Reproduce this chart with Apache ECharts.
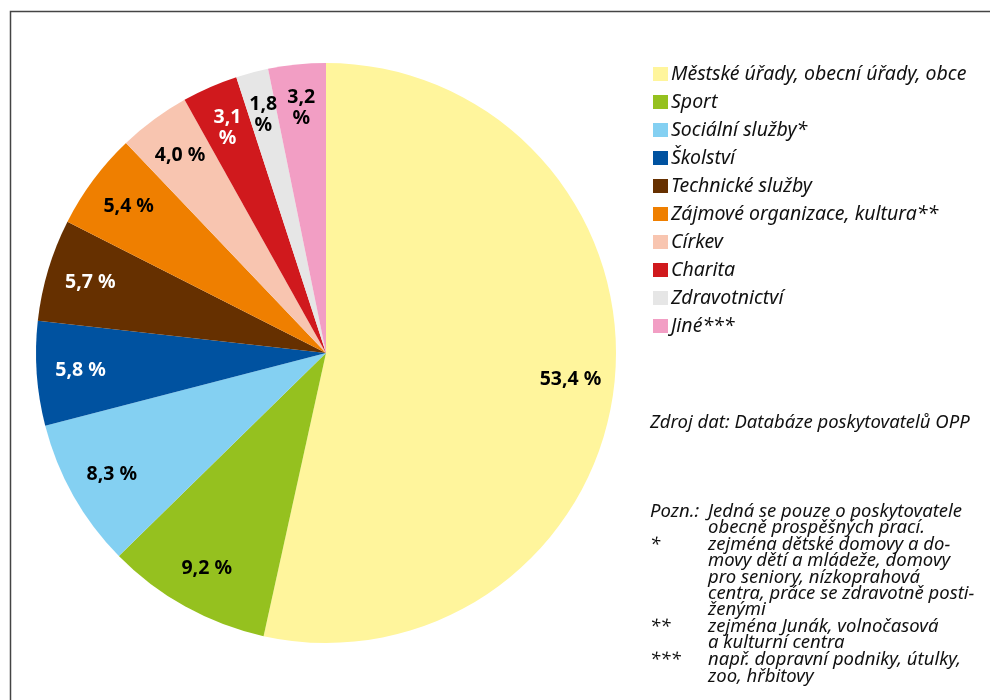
<!DOCTYPE html>
<html lang="cs">
<head>
    <meta charset="UTF-8">
    <script src="https://cdn.jsdelivr.net/npm/echarts@6/dist/echarts.min.js"></script>
    <title>Poskytovatelé OPP</title>
    <style>
        html, body { margin: 0; padding: 0; background: #fff; }
        #chart { width: 990px; height: 700px; }
    </style>
</head>
<body>
<div id="chart"></div>
<script type="text/javascript">
    // data
    var categories = ['Městské úřady, obecní úřady, obce', 'Sport', 'Sociální služby*', 'Školství',
        'Technické služby', 'Zájmové organizace, kultura**', 'Církev', 'Charita', 'Zdravotnictví', 'Jiné***'];
    var shares = [53.4, 9.2, 8.3, 5.8, 5.7, 5.4, 4.0, 3.1, 1.8, 3.2];
    var colors = ['#fff59c', '#95c11f', '#84d0f2', '#0052a0', '#663000', '#ef7f00', '#f8c5b0', '#d0191d', '#e6e6e6', '#f29ec4'];
    var labelColors = ['#000', '#000', '#000', '#fff', '#fff', '#000', '#000', '#fff', '#000', '#000'];
    var twoLine = [false, false, false, false, false, false, false, true, true, true];

    var notes = [
        ['', 'Zdroj dat: Databáze poskytovatelů OPP', 423],
        ['Pozn.:', 'Jedná se pouze o poskytovatele', 512],
        ['', 'obecně prospěšných prací.', 528],
        ['*', 'zejména dětské domovy a do-', 545],
        ['', 'movy dětí a mládeže, domovy', 561],
        ['', 'pro seniory, nízkoprahová', 578],
        ['', 'centra, práce se zdravotně posti-', 594],
        ['', 'ženými', 610],
        ['**', 'zejména Junák, volnočasová', 627],
        ['', 'a kulturní centra', 643],
        ['***', 'např. dopravní podniky, útulky,', 660],
        ['', 'zoo, hřbitovy', 677]
    ];

    var fontName = '"Noto Sans", "Open Sans", sans-serif';

    var pieData = categories.map(function (c, i) {
        return { name: c, value: shares[i], itemStyle: { color: colors[i] } };
    });
    var labelData = categories.map(function (c, i) {
        var txt = shares[i].toFixed(1).replace('.', ',') + (twoLine[i] ? '\n%' : ' %');
        return {
            name: c, value: shares[i],
            label: { formatter: txt, color: labelColors[i] }
        };
    });

    var graphics = [{
        type: 'rect', silent: true,
        shape: { x: 10.5, y: 11.5, width: 1000, height: 720 },
        style: { fill: 'none', stroke: '#444', lineWidth: 1.5 }
    }];
    notes.forEach(function (n, i) {
        var x = i === 0 ? 650 : 708;
        if (n[0] !== '') {
            graphics.push({
                type: 'text', silent: true, x: 650, y: n[2],
                style: { text: n[0], font: 'italic 18.5px ' + fontName, fill: '#111', verticalAlign: 'middle' }
            });
        }
        graphics.push({
            type: 'text', silent: true, x: x, y: n[2],
            style: { text: n[1], font: 'italic 18.5px ' + fontName, fill: '#111', verticalAlign: 'middle' }
        });
    });

    var myChart = echarts.init(document.getElementById('chart'));
    var option = {
        animation: false,
        backgroundColor: '#fff',
        legend: {
            orient: 'vertical',
            left: 648,
            top: 59,
            data: categories,
            icon: 'rect',
            itemWidth: 15,
            itemHeight: 14,
            itemGap: 8,
            selectedMode: false,
            textStyle: {
                fontFamily: fontName,
                fontStyle: 'italic',
                fontSize: 19.5,
                lineHeight: 20,
                color: '#111',
                padding: [0, 0, 0, -2]
            }
        },
        graphic: graphics,
        series: [
            {
                type: 'pie',
                center: [326, 353],
                radius: 290,
                startAngle: 90,
                clockwise: true,
                silent: true,
                label: { show: false },
                labelLine: { show: false },
                itemStyle: { borderWidth: 0 },
                data: pieData
            },
            {
                type: 'pie',
                center: [326, 353],
                radius: [196, 290],
                startAngle: 90,
                clockwise: true,
                silent: true,
                itemStyle: { color: 'transparent' },
                label: {
                    show: true,
                    position: 'inside',
                    fontFamily: fontName,
                    fontWeight: 'bold',
                    fontSize: 19.5,
                    lineHeight: 21
                },
                labelLine: { show: false },
                data: labelData
            }
        ]
    };
    myChart.setOption(option);
</script>
</body>
</html>
